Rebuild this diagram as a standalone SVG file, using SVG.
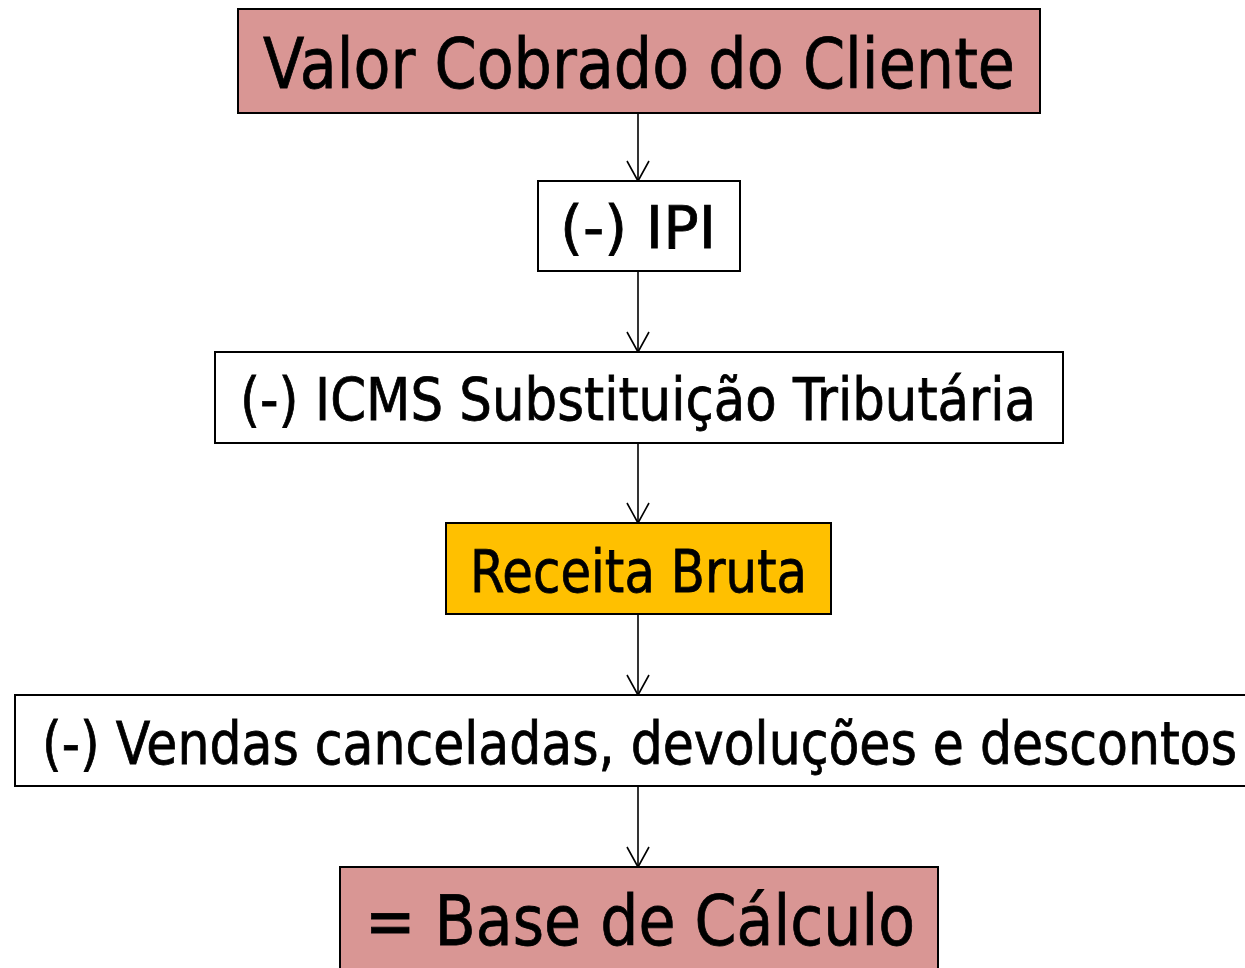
<svg xmlns="http://www.w3.org/2000/svg" width="1245" height="968" viewBox="0 0 1245 968">
<style>
.box{stroke:#000;stroke-width:2}
.pink{fill:#D99694}
.white{fill:#fff}
.orange{fill:#FFC000}
text{font-family:"DejaVu Sans",Verdana,sans-serif;fill:#000;stroke:#000;stroke-width:0.8;text-anchor:middle}
.conn line{stroke:#000;stroke-width:1.6}
</style>
<defs>
<marker id="arr" markerWidth="24" markerHeight="24" refX="21" refY="12" orient="auto" markerUnits="userSpaceOnUse" viewBox="0 0 24 24">
<path d="M1,1 L21,12 L1,23" fill="none" stroke="#000" stroke-width="1.6"/>
</marker>
</defs>
<rect width="1245" height="968" fill="#fff"/>
<g class="conn">
<line x1="638" y1="113" x2="638" y2="181" marker-end="url(#arr)"/>
<line x1="638" y1="271" x2="638" y2="352" marker-end="url(#arr)"/>
<line x1="638" y1="443" x2="638" y2="523" marker-end="url(#arr)"/>
<line x1="638" y1="614" x2="638" y2="695" marker-end="url(#arr)"/>
<line x1="638" y1="786" x2="638" y2="867" marker-end="url(#arr)"/>
</g>
<g id="n1"><rect class="box pink" x="238" y="9" width="802" height="104"/><text x="639" y="88" font-size="70" textLength="752" lengthAdjust="spacingAndGlyphs">Valor Cobrado do Cliente</text></g>
<g id="n2"><rect class="box white" x="538" y="181" width="202" height="90"/><text x="638" y="248" font-size="58" textLength="156" lengthAdjust="spacingAndGlyphs">(-) IPI</text></g>
<g id="n3"><rect class="box white" x="215" y="352" width="848" height="91"/><text x="638" y="420" font-size="58" textLength="796" lengthAdjust="spacingAndGlyphs">(-) ICMS Substituição Tributária</text></g>
<g id="n4"><rect class="box orange" x="446" y="523" width="385" height="91"/><text x="638.5" y="592" font-size="58" textLength="337" lengthAdjust="spacingAndGlyphs">Receita Bruta</text></g>
<g id="n5"><rect class="box white" x="15" y="695" width="1240" height="91"/><text x="639.5" y="764" font-size="58" textLength="1195" lengthAdjust="spacingAndGlyphs">(-) Vendas canceladas, devoluções e descontos</text></g>
<g id="n6"><rect class="box pink" x="340" y="867" width="598" height="110"/><text x="640" y="945" font-size="70" textLength="550" lengthAdjust="spacingAndGlyphs">= Base de Cálculo</text></g>
</svg>
